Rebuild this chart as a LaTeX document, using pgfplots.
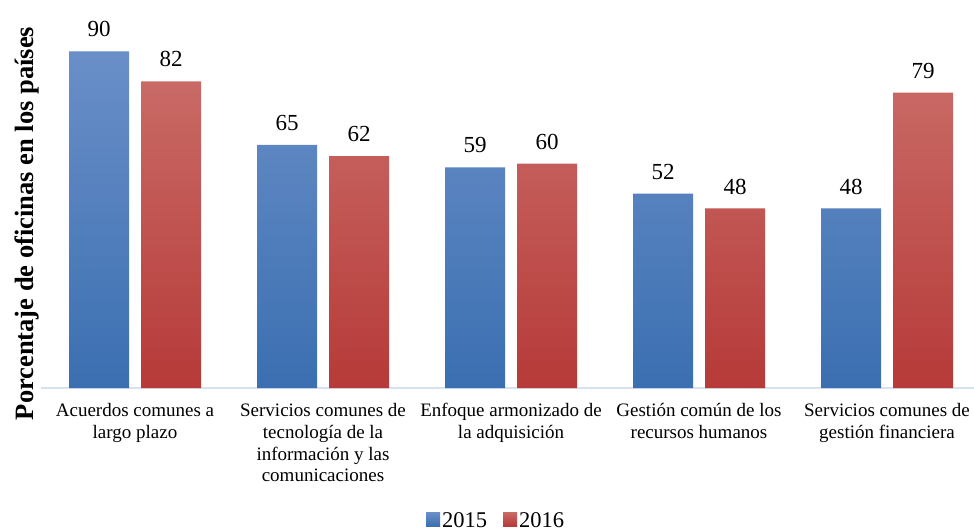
\documentclass[border=0pt]{standalone}
\usepackage{pgfplots}
\pgfplotsset{compat=1.18}
\usepackage{fontspec}
\setmainfont{Liberation Serif}
\definecolor{btop}{RGB}{106,143,200}
\definecolor{bmid}{RGB}{75,127,193}
\definecolor{bbot}{RGB}{59,111,177}
\definecolor{rtop}{RGB}{201,106,102}
\definecolor{rmid}{RGB}{196,77,74}
\definecolor{rbot}{RGB}{182,58,56}
\definecolor{axiscol}{RGB}{214,226,240}
\begin{document}
\begin{tikzpicture}[x=1pt,y=1pt]
\useasboundingbox (0,0) rectangle (974,531);
\begin{axis}[
  at={(41pt,143pt)}, anchor=south west,
  scale only axis, width=932.5pt, height=374pt,
  xmin=-0.5, xmax=4.46, ymin=0, ymax=100,
  enlargelimits=false, clip=false,
  ybar=12pt, bar width=60pt,
  axis x line*=bottom, axis y line*=left,
  x axis line style={draw=axiscol, line width=1.3pt, -},
  y axis line style={draw=none},
  xtick={0,...,4}, ytick=\empty, major tick length=0pt,
  xticklabels={{Acuerdos comunes a\\largo plazo},
    {Servicios comunes de\\tecnología de la\\información y las\\comunicaciones},
    {Enfoque armonizado de\\la adquisición},
    {Gestión común de los\\recursos humanos},
    {Servicios comunes de\\gestión financiera}},
  xticklabel style={align=center, font=\fontsize{19}{21.7}\selectfont, yshift=-12pt},
  /pgf/number format/assume math mode=true,
  nodes near coords,
  nodes near coords style={font=\fontsize{23}{26}\selectfont, inner sep=0pt, yshift=14pt, text=black},
  ylabel={Porcentaje de oficinas en los países},
  ylabel style={font=\bfseries\fontsize{26.5}{28}\selectfont, at={(axis description cs:-0.015,0.44)}, anchor=center},
  legend style={draw=none, at={(0.488,-0.356)}, anchor=center, legend columns=2,
    font=\fontsize{22.5}{24}\selectfont,
    /tikz/every even column/.append style={column sep=14pt}},
  legend image code/.code={\fill[#1] (-3pt,-5pt) rectangle (11pt,9pt);},
]
\addplot[draw=none, top color=btop, middle color=bmid, bottom color=bbot]
  coordinates {(0,90) (1,65) (2,59) (3,52) (4,48)};
\addplot[draw=none, top color=rtop, middle color=rmid, bottom color=rbot]
  coordinates {(0,82) (1,62) (2,60) (3,48) (4,79)};
\legend{2015,2016}
\end{axis}
\end{tikzpicture}
\end{document}
